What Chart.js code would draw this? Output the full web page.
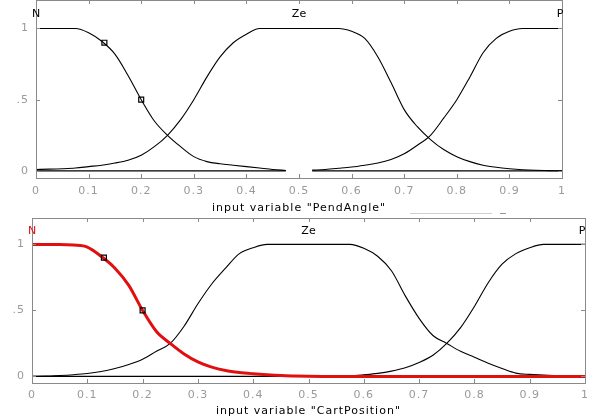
<!DOCTYPE html>
<html>
<head>
<meta charset="utf-8">
<script src="https://cdn.jsdelivr.net/npm/chart.js@4.4.1/dist/chart.umd.min.js"></script>
<style>
  html, body { margin: 0; padding: 0; background: #fff; }
  body { width: 590px; height: 418px; position: relative; overflow: hidden; }
  .wrap { position: absolute; left: 0; width: 590px; }
  #w1 { top: 0; height: 215px; }
  #w2 { top: 205px; height: 213px; }
  canvas { display: block; }
  .sep { position: absolute; top: 213px; height: 1px; background: #cfcfcf; }
</style>
</head>
<body>
<div class="wrap" id="w1"><canvas id="c1"></canvas></div>
<div class="sep" style="left:410px;width:82px;"></div>
<div class="sep" style="left:500px;width:6px;background:#999;"></div>
<div class="wrap" id="w2"><canvas id="c2"></canvas></div>
<script>
// ---- data ----
const xs = [0,0.025,0.05,0.075,0.1,0.125,0.15,0.175,0.2,0.225,0.25,0.275,0.3,0.325,0.35,0.375,0.4,0.425,0.45,0.475,0.5,
            0.525,0.55,0.575,0.6,0.625,0.65,0.675,0.7,0.725,0.75,0.775,0.8,0.825,0.85,0.875,0.9,0.925,0.95,0.975,1];

const mfNames = ['N', 'Ze', 'P'];
const mfLabelX = [0, 0.5, 1];
const mfLabelY = 1.1;

// Panel 1: input variable "PendAngle"
const pendN  = [1,1,1,1,0.97,0.91,0.82,0.67,0.5,0.35,0.25,0.17,0.1,0.065,0.05,0.04,0.03,0.02,0.01,0.003,null,
                0,0,0,0,0,0,0,0,0,0,0,0,0,0,0,0,0,0,0,0];
const pendZe = [0.01,0.012,0.015,0.02,0.03,0.04,0.055,0.075,0.11,0.17,0.25,0.36,0.5,0.66,0.8,0.9,0.96,1,1,1,1,
                1,1,1,0.98,0.93,0.8,0.62,0.43,0.31,0.22,0.15,0.1,0.065,0.04,0.025,0.015,0.008,0.004,0.002,0];
const pendP  = [0,0,0,0,0,0,0,0,0,0,0,0,0,0,0,0,0,0,0,0,null,
                0.005,0.01,0.018,0.027,0.04,0.055,0.08,0.12,0.18,0.25,0.37,0.5,0.66,0.83,0.93,0.98,1,1,1,1];
const pendMarksX = [0.13, 0.2];
const pendMarksY = [0.9, 0.5];

// Panel 2: input variable "CartPosition"
const cartN  = [1,1,1,0.995,0.98,0.91,0.82,0.69,0.5,0.34,0.25,0.17,0.11,0.07,0.045,0.03,0.02,0.012,0.006,0.003,0.001,
                0,0,0,0,0,0,0,0,0,0,0,0,0,0,0,0,0,0,0,0];
const cartZe = [0,0.003,0.007,0.013,0.022,0.037,0.06,0.09,0.13,0.19,0.25,0.38,0.55,0.7,0.82,0.93,0.975,1,1,1,1,
                1,1,1,0.97,0.91,0.8,0.61,0.44,0.31,0.25,0.19,0.145,0.1,0.06,0.025,0.015,0.01,0.005,0.002,0];
const cartP  = [0,0,0,0,0,0,0,0,0,0,0,0,0,0,0,0,0,0,0,0,0,
                0,0,0.003,0.012,0.023,0.04,0.065,0.105,0.16,0.25,0.37,0.53,0.71,0.85,0.93,0.975,1,1,1,1];
const cartMarksX = [0.13, 0.2];
const cartMarksY = [0.9, 0.5];

const xTickValues = [0,0.1,0.2,0.3,0.4,0.5,0.6,0.7,0.8,0.9,1];
const xTickLabels = ['0','0.1','0.2','0.3','0.4','0.5','0.6','0.7','0.8','0.9','1'];
const yTickValues = [0, 0.5, 1];
const yTickLabels = ['0', '.5', '1'];

// ---- helpers ----
const toPts = (ys) => xs.map((x, i) => ({ x: x, y: ys[i] }));
const toMarks = (mx, my) => mx.map((x, i) => ({ x: x, y: my[i] }));

const frameColor = '#8a8a8a';
const tickColor = '#9a9a9a';

const framePlugin = {
  id: 'frame',
  beforeDraw(chart) {
    chart.ctx.letterSpacing = '1px';
  },
  afterDatasetsDraw(chart, args, opts) {
    const { ctx, chartArea: a, scales } = chart;
    ctx.save();
    ctx.letterSpacing = '0px';
    ctx.strokeStyle = frameColor;
    ctx.lineWidth = 1;
    ctx.strokeRect(Math.round(a.left) + 0.5, Math.round(a.top) + 0.5,
                   Math.round(a.right - a.left), Math.round(a.bottom - a.top));
    ctx.beginPath();
    const tl = 4;
    xTickValues.forEach(v => {
      const px = Math.round(scales.x.getPixelForValue(v)) + 0.5;
      ctx.moveTo(px, a.bottom); ctx.lineTo(px, a.bottom - tl);
      ctx.moveTo(px, a.top); ctx.lineTo(px, a.top + tl);
    });
    yTickValues.forEach(v => {
      const py = Math.round(scales.y.getPixelForValue(v)) + 0.5;
      ctx.moveTo(a.left, py); ctx.lineTo(a.left + tl, py);
      ctx.moveTo(a.right, py); ctx.lineTo(a.right - tl, py);
    });
    ctx.stroke();
    // membership function names
    ctx.font = '11px "DejaVu Sans"';
    ctx.textBaseline = 'middle';
    ctx.textAlign = 'center';
    mfNames.forEach((n, i) => {
      ctx.fillStyle = (i === 0 && opts.firstColor) ? opts.firstColor : '#000';
      const px = scales.x.getPixelForValue(mfLabelX[i]) + (opts.dx ? opts.dx[i] : 0);
      ctx.fillText(n, px, scales.y.getPixelForValue(mfLabelY));
    });
    ctx.restore();
  }
};

function makeChart(id, nData, zeData, pData, marks, nColor, nWidth, title, pad, yW, xH, tickPad, titlePadB, firstColor, dx) {
  return new Chart(document.getElementById(id), {
    type: 'line',
    data: {
      datasets: [
        { label: 'marks', data: marks, showLine: false, pointStyle: 'rect', pointRadius: 3.5,
          pointBorderColor: '#000', pointBackgroundColor: 'rgba(0,0,0,0)', pointBorderWidth: 1.2, order: 0 },
        { label: 'N', data: nData, borderColor: nColor, borderWidth: nWidth, pointRadius: 0, cubicInterpolationMode: 'monotone', spanGaps: false, order: 1 },
        { label: 'Ze', data: zeData, borderColor: '#000', borderWidth: 1.1, pointRadius: 0, cubicInterpolationMode: 'monotone', order: 2 },
        { label: 'P', data: pData, borderColor: '#000', borderWidth: 1.1, pointRadius: 0, cubicInterpolationMode: 'monotone', spanGaps: false, order: 3 }
      ]
    },
    options: {
      responsive: true,
      maintainAspectRatio: false,
      animation: false,
      events: [],
      layout: { padding: pad, autoPadding: false },
      plugins: { legend: { display: false }, tooltip: { enabled: false }, frame: { firstColor, dx } },
      scales: {
        x: {
          type: 'linear', min: 0, max: 1,
          afterBuildTicks: s => { s.ticks = xTickValues.map(v => ({ value: v })); },
          afterFit: s => { s.height = xH; s.paddingLeft = 0; s.paddingRight = 0; },
          grid: { display: false, drawTicks: false },
          border: { display: false },
          ticks: {
            padding: tickPad, color: tickColor, maxRotation: 0, autoSkip: false,
            font: { family: 'DejaVu Sans', size: 11 },
            callback: (v) => xTickLabels[xTickValues.indexOf(v)] ?? ''
          },
          title: {
            display: true, text: title, color: '#000',
            font: { family: 'DejaVu Sans', size: 11 },
            padding: { top: 0, bottom: titlePadB }
          }
        },
        y: {
          type: 'linear', min: -0.05, max: 1.2,
          afterBuildTicks: s => { s.ticks = yTickValues.map(v => ({ value: v })); },
          afterFit: s => { s.width = yW; s.paddingTop = 0; s.paddingBottom = 0; },
          grid: { display: false, drawTicks: false },
          border: { display: false },
          ticks: {
            padding: 7, color: tickColor,
            font: { family: 'DejaVu Sans', size: 11 },
            callback: (v) => yTickLabels[yTickValues.indexOf(v)] ?? ''
          }
        }
      }
    },
    plugins: [framePlugin]
  });
}

makeChart('c1', toPts(pendN), toPts(pendZe), toPts(pendP), toMarks(pendMarksX, pendMarksY),
  '#000', 1.1, 'input variable "PendAngle"',
  { top: 0, right: 28, left: 0, bottom: 0 }, 36, 37, 7, 0, null, [0, 0, -2]);

makeChart('c2', toPts(cartN), toPts(cartZe), toPts(cartP), toMarks(cartMarksX, cartMarksY),
  '#e01010', 3, 'input variable "CartPosition"',
  { top: 13, right: 5, left: 0, bottom: 0 }, 32, 35, 6, 0, '#e01010', [0, 0, -3]);
</script>
</body>
</html>
